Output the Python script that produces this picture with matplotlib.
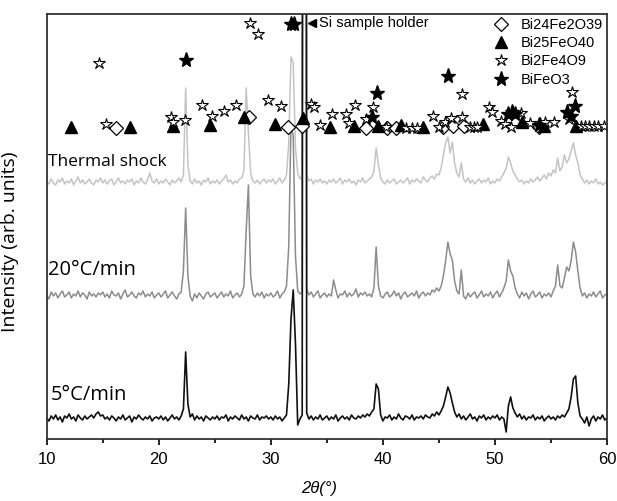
# XRD patterns of BiFeO3 samples (5 C/min, 20 C/min, thermal shock)

# import the libraries
import numpy as np
import matplotlib
matplotlib.use("Agg")
import matplotlib.pyplot as plt
from matplotlib.lines import Line2D

# 2theta grid of the scans, 0.2 deg step from 10 to 60
two_theta = np.round(np.arange(251) * 0.2 + 10, 1)

# intensities (arb. units), one 5 deg block per line
i_5c = [
    21, 18, 23, 20, 24, 19, 22, 17, 23, 21, 25, 20, 22, 18, 24, 21, 19, 23, 20, 22, 24, 21, 25, 27, 23,
    24, 20, 22, 19, 23, 21, 18, 22, 20, 24, 19, 21, 23, 17, 22, 20, 24, 21, 19, 22, 20, 23, 18, 21, 22,
    20, 23, 19, 22, 18, 21, 24, 20, 22, 19, 23, 30, 87, 35, 22, 25, 19, 23, 20, 22, 18, 23, 21, 19, 22,
    20, 23, 19, 22, 21, 24, 18, 22, 20, 23, 21, 19, 24, 20, 22, 18, 23, 21, 20, 24, 19, 22, 21, 23, 20,
    22, 19, 23, 20, 22, 18, 21, 24, 55, 120, 149, 95, 14, 20, 24, 3000, 26, 20, 23, 19, 22, 20, 24, 19, 21,
    23, 19, 22, 20, 24, 18, 21, 23, 20, 22, 19, 24, 21, 20, 23, 21, 24, 22, 25, 23, 27, 30, 55, 50, 24,
    18, 22, 21, 24, 19, 22, 20, 25, 21, 19, 23, 22, 20, 24, 19, 22, 21, 23, 20, 24, 22, 21, 25, 23, 27,
    24, 28, 33, 42, 52, 46, 36, 27, 22, 25, 20, 23, 19, 22, 25, 20, 22, 18, 23, 21, 24, 19, 22, 20, 23,
    21, 24, 19, 22, 20, 7, 33, 42, 31, 26, 22, 25, 20, 23, 19, 22, 21, 24, 19, 22, 20, 23, 18, 21, 23,
    20, 22, 19, 23, 21, 24, 22, 26, 30, 42, 60, 63, 36, 23, 20, 16, 22, 13, 20, 23, 18, 22, 20, 24, 19,
    21]
i_20c = [
    21, 17, 24, 20, 23, 18, 22, 25, 19, 21, 24, 18, 22, 20, 25, 19, 23, 21, 17, 24, 20, 22, 19, 23, 21,
    24, 19, 22, 18, 25, 21, 20, 23, 17, 22, 26, 19, 21, 24, 20, 18, 23, 21, 25, 19, 22, 20, 24, 18, 21,
    23, 19, 22, 25, 18, 21, 24, 20, 17, 22, 24, 45, 108, 40, 20, 15, 22, 18, 23, 20, 17, 22, 24, 19, 21,
    23, 18, 21, 24, 19, 22, 20, 25, 18, 21, 23, 19, 22, 30, 85, 131, 40, 22, 19, 23, 20, 24, 18, 22, 20,
    23, 19, 21, 25, 18, 22, 24, 30, 70, 191, 180, 60, 25, 22, 24, 3000, 27, 21, 24, 19, 22, 25, 18, 21, 23,
    19, 22, 20, 36, 26, 18, 22, 21, 25, 19, 23, 20, 22, 27, 19, 23, 21, 24, 20, 22, 19, 28, 69, 30, 20,
    18, 22, 24, 19, 21, 25, 20, 23, 17, 22, 24, 19, 21, 23, 20, 25, 18, 22, 24, 20, 23, 21, 26, 24, 28,
    25, 30, 40, 55, 74, 62, 56, 35, 25, 22, 46, 20, 17, 23, 19, 22, 24, 18, 21, 25, 19, 22, 20, 24, 18,
    22, 25, 19, 23, 28, 35, 56, 45, 40, 28, 22, 18, 24, 20, 23, 17, 22, 25, 19, 21, 24, 18, 22, 20, 23,
    19, 25, 30, 51, 30, 28, 38, 49, 45, 55, 74, 64, 45, 28, 20, 23, 18, 22, 20, 24, 19, 22, 25, 18, 21,
    22]
i_shock = [
    22, 19, 24, 20, 18, 23, 21, 25, 19, 22, 20, 24, 18, 22, 26, 20, 23, 19, 21, 24, 20, 18, 23, 21, 25,
    20, 23, 19, 22, 24, 18, 21, 25, 20, 22, 19, 23, 21, 24, 18, 22, 20, 25, 21, 19, 23, 30, 22, 20, 24,
    19, 22, 20, 24, 21, 18, 23, 20, 22, 25, 21, 28, 115, 38, 22, 19, 24, 20, 22, 18, 23, 21, 25, 19, 22,
    20, 23, 19, 22, 24, 28, 21, 23, 19, 22, 20, 24, 25, 32, 115, 70, 30, 22, 20, 23, 19, 22, 24, 20, 23,
    21, 24, 19, 22, 25, 20, 23, 28, 60, 146, 140, 55, 30, 24, 26, 3000, 28, 22, 24, 19, 23, 21, 24, 20, 22,
    19, 23, 21, 24, 20, 22, 25, 19, 23, 21, 24, 20, 22, 18, 23, 21, 25, 20, 22, 24, 26, 32, 55, 38, 25,
    21, 19, 23, 20, 22, 24, 19, 21, 23, 20, 22, 25, 19, 23, 21, 24, 22, 20, 26, 23, 21, 25, 27, 24, 29,
    28, 35, 48, 60, 66, 50, 61, 40, 30, 26, 40, 24, 21, 25, 20, 23, 19, 22, 24, 20, 23, 21, 25, 19, 22,
    20, 24, 22, 26, 30, 35, 46, 40, 32, 28, 24, 21, 23, 19, 22, 20, 24, 21, 23, 26, 22, 25, 28, 24, 30,
    27, 33, 30, 45, 32, 36, 48, 40, 44, 52, 60, 48, 40, 28, 24, 20, 23, 19, 22, 20, 24, 19, 21, 18, 20,
    21]

# vertical stacking of the patterns
offset_5c = 0
offset_20c = 123
offset_shock = 236

# reference peak marks (2theta, height)
bi24_x = [16.2, 28.05, 31.55, 32.8, 38.5, 40.4, 41.2, 45.4, 46.3, 47.2, 53.9]
bi24_y = [311, 322, 312, 313, 311, 311, 311, 312, 313, 313, 312]
bi25_x = [12.2, 17.4, 21.25, 24.6, 27.65, 30.4, 32.9, 35.25, 37.45, 39.55, 41.6, 43.6, 48.9, 52.4, 54.4, 57.2]
bi25_y = [312, 312, 313, 314, 322, 315, 321, 312, 313, 313, 314, 312, 315, 317, 313, 313]
bi2_x = [14.7, 15.25, 21.05, 21.25, 22.35, 23.9, 24.75, 25.8, 26.85, 28.15, 28.9, 29.75, 30.9,
         33.6, 33.85, 34.4, 35.45, 36.7, 36.95, 37.55, 38.5, 39.1, 40.25, 42.05, 42.6, 43.05,
         44.45, 45.05, 45.55, 46.1, 47.05, 47.05, 47.8, 48.1, 48.4, 49.45, 49.7, 50.5, 50.9,
         51.4, 52.3, 53.15, 54.05, 54.5, 55.3, 56.6, 56.85, 57.7, 58.0, 58.4, 58.8, 59.2, 59.7]
bi2_y = [376, 315, 322, 317, 319, 334, 323, 328, 334, 416, 405, 339, 333,
         335, 332, 314, 325, 325, 316, 334, 320, 332, 312, 311, 311, 311,
         323, 312, 317, 321, 345, 322, 312, 312, 312, 332, 327, 318, 315,
         312, 326, 316, 316, 317, 317, 320, 347, 313, 313, 313, 313, 313, 313]
bfo_x = [22.4, 31.8, 32.1, 39.45, 39.05, 45.85, 51.2, 51.5, 51.8, 53.9, 56.45, 56.75, 57.15]
bfo_y = [379, 415, 415, 346, 322, 363, 325, 327, 325, 314, 327, 323, 333]

# plot
fig = plt.figure(figsize=(6.17, 5.01), dpi=100)
ax = fig.add_axes([0.0757, 0.1238, 0.9081, 0.8483])

ax.plot(two_theta, np.array(i_shock) + offset_shock, color="#c4c4c4", lw=1.1)
ax.plot(two_theta, np.array(i_20c) + offset_20c, color="#8c8c8c", lw=1.1)
ax.plot(two_theta, np.array(i_5c) + offset_5c, color="#111111", lw=1.2)

ax.plot(bi24_x, bi24_y, "D", ms=7, mfc="white", mec="black", mew=0.9, ls="none")
ax.plot(bi25_x, bi25_y, "^", ms=8, color="black", ls="none")
ax.plot(bi2_x, bi2_y, "*", ms=9, mfc="white", mec="black", mew=0.8, ls="none")
ax.plot(bfo_x, bfo_y, "*", ms=11, color="black", ls="none")

# Si sample holder note
ax.plot([33.69], [416], "<", ms=6, color="black")
ax.text(34.3, 416, "Si sample holder", fontsize=10.5, family="Liberation Sans", va="center")

# sample labels
lab_font = dict(family="Open Sans", color="black", va="center", ha="left")
ax.text(10.12, 277, "Thermal shock", fontsize=12.5, **lab_font)
ax.text(10.12, 169, "20°C/min", fontsize=14.5, **lab_font)
ax.text(10.4, 44, "5°C/min", fontsize=14.5, **lab_font)

# legend
handles = [
    Line2D([], [], marker="D", ms=7, mfc="white", mec="black", mew=0.9, ls="none"),
    Line2D([], [], marker="^", ms=8, color="black", ls="none"),
    Line2D([], [], marker="*", ms=9, mfc="white", mec="black", mew=0.8, ls="none"),
    Line2D([], [], marker="*", ms=11, color="black", ls="none"),
]
ax.legend(handles, ["Bi24Fe2O39", "Bi25FeO40", "Bi2Fe4O9", "BiFeO3"],
          loc="upper right", frameon=False, prop=dict(family="Liberation Sans", size=10.5),
          handlelength=1.0, handletextpad=0.85, labelspacing=0.3,
          borderpad=0.25, borderaxespad=0.0)

ax.set_xlim(10, 60)
ax.set_ylim(0, 425)
ax.set_xticks([10, 20, 30, 40, 50, 60])
ax.set_xticks([15, 25, 35, 45, 55], minor=True)
ax.set_yticks([])
ax.tick_params(axis="x", which="major", direction="out", length=4.5, width=1.2, pad=5)
ax.tick_params(axis="x", which="minor", direction="out", length=3, width=1.2)
for lab in ax.get_xticklabels():
    lab.set_family("Liberation Sans")
    lab.set_fontsize(12)
for s in ax.spines.values():
    s.set_linewidth(1.3)
    s.set_color("#333333")

ax.set_xlabel("2θ(°)", fontsize=12, style="italic", family="Liberation Sans")
ax.xaxis.set_label_coords(0.486, -0.1)
ax.set_ylabel("Intensity (arb. units)", fontsize=14, family="Open Sans")
ax.yaxis.set_label_coords(-0.05, 0.465)

plt.savefig("out.png", dpi=100)
